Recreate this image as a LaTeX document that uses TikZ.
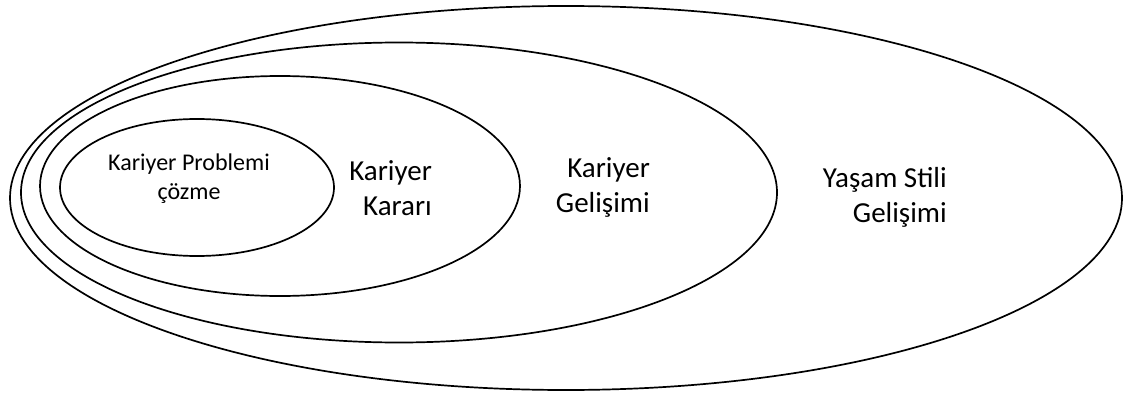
\documentclass[tikz,border=0pt]{standalone}
\usepackage{fontspec}
\setmainfont{Carlito}
\usetikzlibrary{shapes.geometric}
\begin{document}
\begin{tikzpicture}[x=1pt,y=-1pt,
  ring/.style={draw=black,line width=1.7pt,ellipse,inner sep=0pt,outer sep=0pt},
  lbl/.style={font=\fontsize{29}{35}\selectfont,inner sep=0pt,align=right,anchor=base east},
  smalllbl/.style={font=\fontsize{24}{29}\selectfont,inner sep=0pt,align=center,anchor=base}]
  \useasboundingbox[fill=white] (0,0) rectangle (1130,396);
  % nested ellipses, outermost first
  \node[ring,minimum width=1112pt,minimum height=384pt] (life) at (566,198) {};
  \node[ring,minimum width=756pt,minimum height=300pt] (dev) at (399,192.5) {};
  \node[ring,minimum width=480pt,minimum height=220pt] (dec) at (280,186) {};
  \node[ring,minimum width=274pt,minimum height=137pt] (prob) at (197,187.5) {};
  % labels (anchored on the baseline of their last line)
  \node[smalllbl] (tprob) at (189,199) {Kariyer Problemi\\çözme};
  \node[lbl] (tdec) at (432,215) {Kariyer\\Kararı};
  \node[lbl] (tdev) at (650,212) {Kariyer\\Gelişimi};
  \node[lbl] (tlife) at (947,222) {Yaşam Stili\\Gelişimi};
\end{tikzpicture}
\end{document}
